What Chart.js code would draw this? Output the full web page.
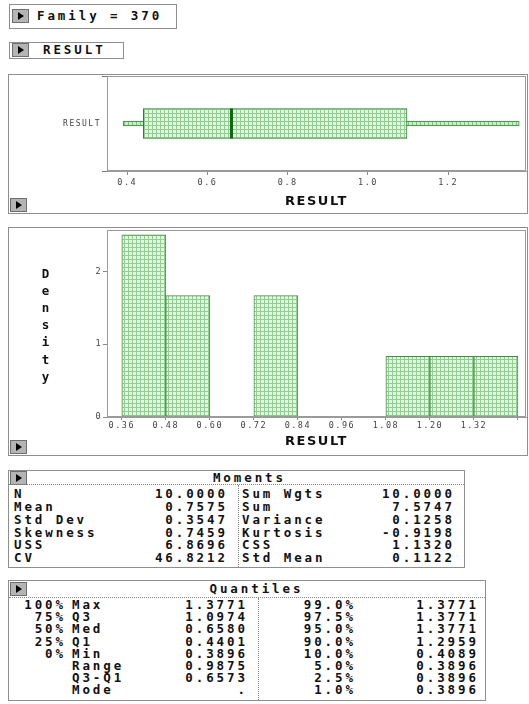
<!DOCTYPE html>
<html>
<head>
<meta charset="utf-8">
<title>Family = 370</title>
<script src="https://cdn.jsdelivr.net/npm/chart.js@4.4.0/dist/chart.umd.min.js"></script>
<style>
  body { margin: 0; background: #fff; width: 529px; height: 704px; position: relative; overflow: hidden; }
  .box { position: absolute; border: 1px solid #8e8e8e; box-sizing: border-box; }
  .btn { position: absolute; width: 17px; height: 14px; background: #b4b4b4; border: 1px solid #6e6e6e; box-sizing: border-box; }
  .btn::after { content: ""; position: absolute; left: 5px; top: 2px; border-left: 6px solid #000; border-top: 4px solid transparent; border-bottom: 4px solid transparent; }
  .txt { position: absolute; font: bold 12.5px "DejaVu Sans Mono", monospace; letter-spacing: 2.9px; line-height: 14px; white-space: pre; color: #111; }
  .hline { position: absolute; height: 0; border-top: 1px dotted #888; }
  .vline { position: absolute; width: 0; border-left: 1px dotted #888; }
  canvas { position: absolute; }
</style>
</head>
<body>
<div class="box" style="left:9px;top:4px;width:168px;height:25px"></div>
<div class="btn" style="left:12px;top:9px"></div>
<div class="box" style="left:9px;top:42px;width:115px;height:17px"></div>
<div class="btn" style="left:12px;top:43px"></div>

<div class="box" style="left:8px;top:74px;width:520px;height:140px"></div>
<canvas id="boxChart" width="519" height="140" style="left:8px;top:73px"></canvas>
<div class="btn" style="left:10px;top:198px"></div>

<div class="box" style="left:8px;top:227px;width:520px;height:229px"></div>
<canvas id="histChart" width="519" height="228" style="left:8px;top:227px"></canvas>
<div class="btn" style="left:10px;top:440px"></div>

<div class="box" style="left:8px;top:470px;width:457px;height:98px"></div>
<div class="btn" style="left:10px;top:471px"></div>
<div class="hline" style="left:9px;top:484px;width:455px"></div>
<div class="vline" style="left:238px;top:485px;height:82px"></div>

<div class="box" style="left:8px;top:580px;width:478px;height:121px"></div>
<div class="btn" style="left:10px;top:582px"></div>
<div class="hline" style="left:9px;top:597px;width:476px"></div>
<div class="vline" style="left:258px;top:598px;height:102px"></div>

<script>
// box plot summary for RESULT
const boxLabels = ['RESULT'];
const boxMin = 0.3896;
const boxQ1 = 0.4401;
const boxMedian = 0.6580;
const boxQ3 = 1.0974;
const boxMax = 1.3771;
const boxTicks = [0.4, 0.6, 0.8, 1.0, 1.2];

// histogram (density, bin width 0.12)
const binWidth = 0.12;
const binStart = [0.36, 0.48, 0.60, 0.72, 0.84, 0.96, 1.08, 1.20, 1.32];
const binDensity = [2.5, 1.667, 0, 1.667, 0, 0, 0.833, 0.833, 0.833];
const histTicks = [0.36, 0.48, 0.60, 0.72, 0.84, 0.96, 1.08, 1.20, 1.32, 1.44];
const densityTicks = [0, 1, 2];

// Moments table
const momentNames1 = ['N', 'Mean', 'Std Dev', 'Skewness', 'USS', 'CV'];
const momentValues1 = ['10.0000', '0.7575', '0.3547', '0.7459', '6.8696', '46.8212'];
const momentNames2 = ['Sum Wgts', 'Sum', 'Variance', 'Kurtosis', 'CSS', 'Std Mean'];
const momentValues2 = ['10.0000', '7.5747', '0.1258', '-0.9198', '1.1320', '0.1122'];

// Quantiles table
const quantPct = ['100%', '75%', '50%', '25%', '0%', '', '', ''];
const quantNames = ['Max', 'Q3', 'Med', 'Q1', 'Min', 'Range', 'Q3-Q1', 'Mode'];
const quantValues = ['1.3771', '1.0974', '0.6580', '0.4401', '0.3896', '0.9875', '0.6573', '.'];
const quantPct2 = ['99.0%', '97.5%', '95.0%', '90.0%', '10.0%', '5.0%', '2.5%', '1.0%'];
const quantValues2 = ['1.3771', '1.3771', '1.3771', '1.2959', '0.4089', '0.3896', '0.3896', '0.3896'];

const ls = 2.9;

function put(text, x, y, align) {
  const d = document.createElement('div');
  d.className = 'txt';
  d.textContent = text;
  d.style.top = (y - 7.5) + 'px';
  if (align === 'right') {
    d.style.left = (x + ls - 300) + 'px';
    d.style.width = '300px';
    d.style.textAlign = 'right';
  } else if (align === 'center') {
    d.style.left = (x + ls / 2 - 150) + 'px';
    d.style.width = '300px';
    d.style.textAlign = 'center';
  } else {
    d.style.left = x + 'px';
  }
  document.body.appendChild(d);
}

put('Family = 370', 37, 16);
put('RESULT', 43, 50);
'Density'.split('').forEach((ch, i) => put(ch, 45.5, 274 + 17.2 * i, 'center'));

put('Moments', 248, 478.7, 'center');
momentNames1.forEach((n, i) => {
  const y = 494.9 + 12.74 * i;
  put(n, 14, y);
  put(momentValues1[i], 225, y, 'right');
  put(momentNames2[i], 242, y);
  put(momentValues2[i], 452, y, 'right');
});

put('Quantiles', 255, 589, 'center');
quantNames.forEach((n, i) => {
  const y = 605.5 + 12.2 * i;
  put(quantPct[i], 63, y, 'right');
  put(n, 72, y);
  put(quantValues[i], 245, y, 'right');
  put(quantPct2[i], 353, y, 'right');
  put(quantValues2[i], 476, y, 'right');
});

function hatch(ctx, bg, line) {
  const tile = document.createElement('canvas');
  tile.width = 4;
  tile.height = 4;
  const g = tile.getContext('2d');
  g.fillStyle = bg;
  g.fillRect(0, 0, 4, 4);
  g.fillStyle = line;
  g.fillRect(0, 0, 4, 1);
  g.fillRect(0, 0, 1, 4);
  return ctx.createPattern(tile, 'repeat');
}

const framePlugin = {
  id: 'frame',
  afterDraw(chart) {
    const { ctx, chartArea: a } = chart;
    ctx.save();
    ctx.strokeStyle = '#9a9a9a';
    ctx.lineWidth = 1;
    ctx.strokeRect(a.left + 0.5, a.top + 0.5, a.right - a.left - 1, a.bottom - a.top - 1);
    ctx.restore();
  }
};

const spacingPlugin = {
  id: 'spacing',
  beforeDraw(chart) { chart.ctx.letterSpacing = '1.5px'; },
  afterDraw(chart) { chart.ctx.letterSpacing = '0px'; }
};

const medianPlugin = {
  id: 'median',
  afterDatasetsDraw(chart) {
    const bar = chart.getDatasetMeta(0).data[0];
    const x = chart.scales.x.getPixelForValue(boxMedian);
    const h = bar.height / 2;
    chart.ctx.save();
    chart.ctx.fillStyle = '#0d6a0d';
    chart.ctx.fillRect(Math.round(x) - 1, bar.y - h, 3, h * 2);
    chart.ctx.restore();
  }
};

const tickFont = { family: 'DejaVu Sans Mono', size: 8.5 };
const titleFont = { family: 'DejaVu Sans', size: 13, weight: 'bold' };

const boxCtx = document.getElementById('boxChart').getContext('2d');
new Chart(boxCtx, {
  type: 'bar',
  data: {
    labels: boxLabels,
    datasets: [
      {
        data: [[boxQ1, boxQ3]],
        backgroundColor: hatch(boxCtx, '#e6f7e6', '#8fcf8f'),
        borderColor: '#2f7d2f',
        borderWidth: 1,
        borderSkipped: false,
        barThickness: 30
      },
      {
        data: [[boxMin, boxMax]],
        backgroundColor: hatch(boxCtx, '#c9ecc9', '#7cc27c'),
        borderColor: '#3f8f3f',
        borderWidth: 1,
        borderSkipped: false,
        barThickness: 5
      }
    ]
  },
  options: {
    indexAxis: 'y',
    responsive: false,
    animation: false,
    grouped: false,
    layout: { padding: { top: 3, right: 1, left: 0, bottom: 0 } },
    plugins: { legend: { display: false }, tooltip: { enabled: false } },
    scales: {
      x: {
        type: 'linear',
        min: 0.3495,
        max: 1.394,
        afterBuildTicks: s => { s.ticks = boxTicks.map(v => ({ value: v })); },
        afterFit: s => { s.height = 42; },
        grid: { drawOnChartArea: false, tickLength: 4, color: '#888' },
        border: { color: '#9a9a9a' },
        ticks: { font: tickFont, color: '#444', padding: 3, maxRotation: 0, autoSkip: false,
                 callback: v => v.toFixed(1) },
        title: { display: true, text: 'RESULT', font: titleFont, color: '#111', padding: { top: 0, bottom: 4 } }
      },
      y: {
        afterFit: s => { s.width = 99; s.paddingTop = 0; s.paddingBottom = 0; },
        grid: { drawOnChartArea: false, tickLength: 5, color: '#777' },
        border: { color: '#9a9a9a' },
        ticks: { font: { family: 'DejaVu Sans Mono', size: 8 }, color: '#444', padding: 1 }
      }
    }
  },
  plugins: [spacingPlugin, framePlugin, medianPlugin]
});

const histCtx = document.getElementById('histChart').getContext('2d');
new Chart(histCtx, {
  type: 'bar',
  data: {
    datasets: [{
      data: binStart.map((s, i) => ({ x: s + binWidth / 2, y: binDensity[i] })),
      backgroundColor: hatch(histCtx, '#e6f7e6', '#8fcf8f'),
      borderColor: '#4a8a4a',
      borderWidth: 1,
      borderSkipped: false,
      barPercentage: 1,
      categoryPercentage: 1
    }]
  },
  options: {
    responsive: false,
    animation: false,
    layout: { padding: { top: 3, right: 1, left: 0, bottom: 0 } },
    plugins: { legend: { display: false }, tooltip: { enabled: false } },
    scales: {
      x: {
        type: 'linear',
        offset: false,
        min: 0.3196,
        max: 1.462,
        afterBuildTicks: s => { s.ticks = histTicks.map(v => ({ value: v })); },
        afterFit: s => { s.height = 38; },
        grid: { drawOnChartArea: false, offset: false, tickLength: 3, color: '#888' },
        border: { color: '#9a9a9a' },
        ticks: { font: tickFont, color: '#444', padding: 1, maxRotation: 0, autoSkip: false,
                 callback: v => (v > 1.4 ? '' : v.toFixed(2)) },
        title: { display: true, text: 'RESULT', font: titleFont, color: '#111', padding: { top: 0, bottom: 6 } }
      },
      y: {
        min: 0,
        max: 2.567,
        afterBuildTicks: s => { s.ticks = densityTicks.map(v => ({ value: v })); },
        afterFit: s => { s.width = 99; s.paddingTop = 0; s.paddingBottom = 0; },
        grid: { drawOnChartArea: false, tickLength: 4, color: '#888' },
        border: { color: '#9a9a9a' },
        ticks: { font: tickFont, color: '#444', padding: 1 }
      }
    }
  },
  plugins: [spacingPlugin, framePlugin]
});
</script>
</body>
</html>
